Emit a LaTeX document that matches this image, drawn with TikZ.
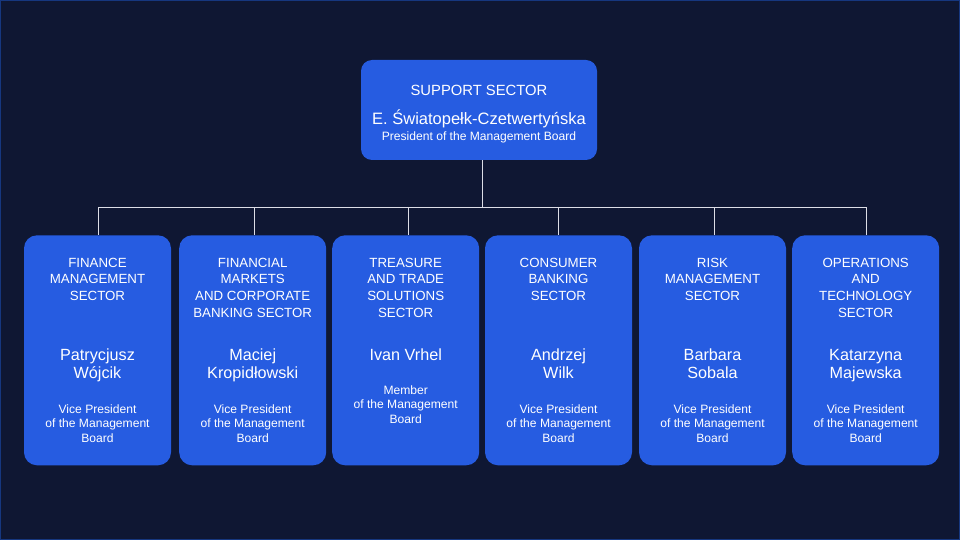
\documentclass[tikz,border=0pt]{standalone}
\usepackage{fontspec}
\setmainfont{Liberation Sans}
\definecolor{bg}{HTML}{0F1733}
\definecolor{boxblue}{HTML}{265CE1}
\definecolor{rim}{HTML}{16377F}
\definecolor{wire}{HTML}{DCDDE6}
\begin{document}
\begin{tikzpicture}[x=1pt,y=-1pt,
  sectorbox/.style={rectangle,fill=boxblue,draw=none,rounded corners=13pt,
    minimum width=147pt,minimum height=230pt,inner sep=0pt},
  topbox/.style={rectangle,fill=boxblue,draw=none,rounded corners=11pt,
    minimum width=236pt,minimum height=100pt,inner sep=0pt},
  txt/.style={text=white,align=center,anchor=base,inner sep=0pt},
  hdr/.style={txt,font=\fontsize{13.3}{16.6}\selectfont},
  nm/.style={txt,font=\fontsize{16.2}{18.5}\selectfont},
  role/.style={txt,font=\fontsize{12.1}{14.6}\selectfont},
  wireline/.style={draw=wire,line width=1pt}
]
\useasboundingbox (0,0) rectangle (960,540);
\fill[bg] (0,0) rectangle (960,540);
\draw[rim,line width=1pt] (0.5,0.5) rectangle (959.5,539.5);

% top box
\node[topbox] (top) at (479,110) {};
\node[txt,font=\fontsize{14.8}{17}\selectfont] (toph) at (479,95.3) {SUPPORT SECTOR};
\node[txt,font=\fontsize{16.5}{19}\selectfont] (topn) at (479,124.7) {E. Światopełk-Czetwertyńska};
\node[txt,font=\fontsize{12.1}{14}\selectfont] (topr) at (479,140.7) {President of the Management Board};

% sector boxes
\node[sectorbox] (b1) at (97.5,350.3) {};
\node[sectorbox] (b2) at (252.7,350.3) {};
\node[sectorbox] (b3) at (405.7,350.3) {};
\node[sectorbox] (b4) at (558.5,350.3) {};
\node[sectorbox] (b5) at (712.5,350.3) {};
\node[sectorbox] (b6) at (865.7,350.3) {};

% connectors
\coordinate (bus) at (482,207.3);
\draw[wireline] (top.south -| bus) -- (bus);
\foreach \b/\dx in {b1/0.5,b2/1.5,b3/2.3,b4/0,b5/1.5,b6/0.3}{
  \draw[wireline] (bus) -| ([xshift=\dx pt]\b.north);
}

% texts (anchor base = baseline of last line)
\node[hdr] (h1) at (b1.center |- 0,300.5) {FINANCE\\MANAGEMENT\\SECTOR};
\node[nm]  (n1) at (b1.center |- 0,378.5) {Patrycjusz\\Wójcik};
\node[role] (r1) at (b1.center |- 0,442.5) {Vice President\\of the Management\\Board};

\node[hdr] (h2) at (b2.center |- 0,317.1) {FINANCIAL\\MARKETS\\AND CORPORATE\\BANKING SECTOR};
\node[nm]  (n2) at (b2.center |- 0,378.5) {Maciej\\Kropidłowski};
\node[role] (r2) at (b2.center |- 0,442.5) {Vice President\\of the Management\\Board};

\node[hdr] (h3) at (b3.center |- 0,317.1) {TREASURE\\AND TRADE\\SOLUTIONS\\SECTOR};
\node[nm]  (n3) at (b3.center |- 0,360) {Ivan Vrhel};
\node[role] (r3) at (b3.center |- 0,423.5) {Member\\of the Management\\Board};

\node[hdr] (h4) at (b4.center |- 0,300.5) {CONSUMER\\BANKING\\SECTOR};
\node[nm]  (n4) at (b4.center |- 0,378.5) {Andrzej\\Wilk};
\node[role] (r4) at (b4.center |- 0,442.5) {Vice President\\of the Management\\Board};

\node[hdr] (h5) at (b5.center |- 0,300.5) {RISK\\MANAGEMENT\\SECTOR};
\node[nm]  (n5) at (b5.center |- 0,378.5) {Barbara\\Sobala};
\node[role] (r5) at (b5.center |- 0,442.5) {Vice President\\of the Management\\Board};

\node[hdr] (h6) at (b6.center |- 0,317.1) {OPERATIONS\\AND\\TECHNOLOGY\\SECTOR};
\node[nm]  (n6) at (b6.center |- 0,378.5) {Katarzyna\\Majewska};
\node[role] (r6) at (b6.center |- 0,442.5) {Vice President\\of the Management\\Board};
\end{tikzpicture}
\end{document}
